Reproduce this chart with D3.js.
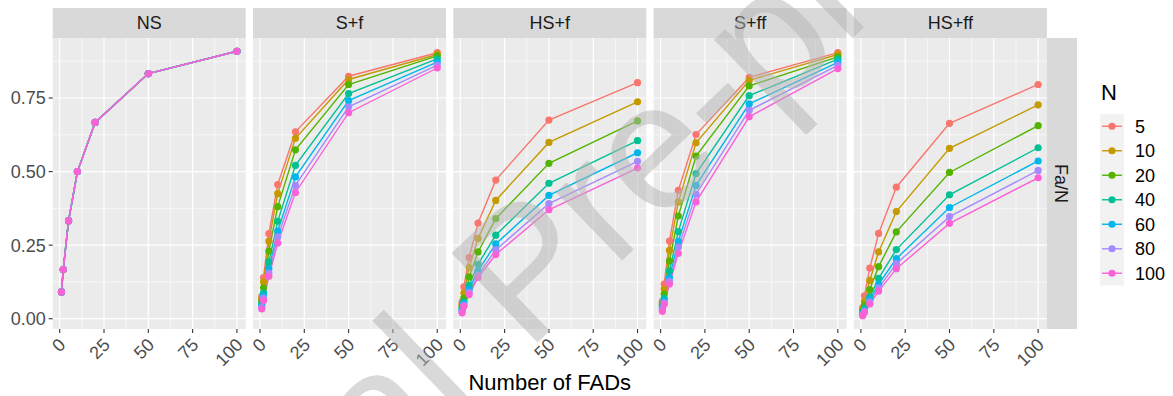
<!DOCTYPE html>
<html>
<head>
<meta charset="utf-8">
<script src="https://cdn.jsdelivr.net/npm/d3@7"></script>
<style>
  body { margin: 0; background: #fff; }
  svg text { font-family: "Liberation Sans", Arial, sans-serif; }
</style>
</head>
<body>
<svg id="chart"></svg>
<script>
/* data: one row per N level, columns follow fadValues */
var fadValues = [1, 2, 5, 10, 20, 50, 100];
var nLevels = [5, 10, 20, 40, 60, 80, 100];
var scenarios = ["NS", "S+f", "HS+f", "S+ff", "HS+ff"];
var xTicks = [0, 25, 50, 75, 100];
var yTicks = [0, 0.25, 0.5, 0.75];
var yTickLabels = ["0.00", "0.25", "0.50", "0.75"];

var valsNS = [
  [0.091, 0.167, 0.333, 0.500, 0.667, 0.833, 0.909],
  [0.091, 0.167, 0.333, 0.500, 0.667, 0.833, 0.909],
  [0.091, 0.167, 0.333, 0.500, 0.667, 0.833, 0.909],
  [0.091, 0.167, 0.333, 0.500, 0.667, 0.833, 0.909],
  [0.091, 0.167, 0.333, 0.500, 0.667, 0.833, 0.909],
  [0.091, 0.167, 0.333, 0.500, 0.667, 0.833, 0.909],
  [0.091, 0.167, 0.333, 0.500, 0.667, 0.833, 0.909]
];
var valsSf = [
  [0.076, 0.140, 0.289, 0.456, 0.635, 0.824, 0.904],
  [0.068, 0.125, 0.264, 0.425, 0.613, 0.813, 0.898],
  [0.060, 0.105, 0.230, 0.381, 0.574, 0.796, 0.893],
  [0.051, 0.088, 0.193, 0.331, 0.521, 0.765, 0.883],
  [0.043, 0.077, 0.170, 0.298, 0.482, 0.741, 0.872],
  [0.038, 0.070, 0.155, 0.278, 0.453, 0.720, 0.862],
  [0.033, 0.062, 0.144, 0.257, 0.429, 0.700, 0.852]
];
var valsHSf = [
  [0.057, 0.108, 0.208, 0.325, 0.471, 0.675, 0.802],
  [0.049, 0.087, 0.174, 0.273, 0.402, 0.599, 0.737],
  [0.041, 0.070, 0.142, 0.227, 0.340, 0.528, 0.672],
  [0.034, 0.057, 0.113, 0.185, 0.284, 0.460, 0.605],
  [0.028, 0.051, 0.101, 0.163, 0.254, 0.419, 0.564],
  [0.025, 0.045, 0.090, 0.148, 0.234, 0.391, 0.535],
  [0.020, 0.042, 0.082, 0.140, 0.218, 0.370, 0.512]
];
var valsSff = [
  [0.059, 0.118, 0.264, 0.436, 0.626, 0.820, 0.904],
  [0.053, 0.101, 0.232, 0.397, 0.598, 0.810, 0.898],
  [0.048, 0.084, 0.196, 0.349, 0.553, 0.791, 0.890],
  [0.042, 0.069, 0.162, 0.296, 0.493, 0.758, 0.882],
  [0.036, 0.061, 0.140, 0.263, 0.453, 0.730, 0.871],
  [0.032, 0.054, 0.127, 0.243, 0.423, 0.708, 0.861],
  [0.025, 0.049, 0.118, 0.222, 0.397, 0.686, 0.850]
];
var valsHSff = [
  [0.038, 0.078, 0.172, 0.290, 0.447, 0.664, 0.796],
  [0.032, 0.059, 0.130, 0.227, 0.364, 0.579, 0.727],
  [0.026, 0.045, 0.099, 0.177, 0.295, 0.497, 0.656],
  [0.020, 0.035, 0.074, 0.137, 0.235, 0.421, 0.581],
  [0.017, 0.028, 0.065, 0.118, 0.204, 0.378, 0.536],
  [0.014, 0.025, 0.057, 0.105, 0.187, 0.347, 0.504],
  [0.010, 0.021, 0.050, 0.094, 0.170, 0.324, 0.479]
];
var panelValues = [valsNS, valsSf, valsHSf, valsSff, valsHSff];

var colors = ["#F8766D", "#C49A00", "#53B400", "#00C094", "#00B6EB", "#A58AFF", "#FB61D7"];

/* layout */
var svgWidth = 1173, svgHeight = 396;
var panelLeft = 52.7, panelW = 193, panelGap = 7.3;
var panelTop = 38, panelBottom = 329, stripH = 30, stripW = 30;

var svg = d3.select("#chart")
    .attr("width", svgWidth)
    .attr("height", svgHeight);

svg.append("rect").attr("width", svgWidth).attr("height", svgHeight).attr("fill", "#fff");

// ggplot style 5% expansion
var allVals = d3.merge(panelValues.map(function(p) { return d3.merge(p); }));
var yMin = d3.min(allVals), yMax = d3.max(allVals);
var yPad = (yMax - yMin) * 0.05;
var xPad = (d3.max(fadValues) - d3.min(fadValues)) * 0.05;

var y = d3.scaleLinear()
    .domain([yMin - yPad, yMax + yPad])
    .range([panelBottom, panelTop]);

var line = d3.line();

scenarios.forEach(function(name, p) {
    var x0 = panelLeft + p * (panelW + panelGap);
    var x = d3.scaleLinear()
        .domain([d3.min(fadValues) - xPad, d3.max(fadValues) + xPad])
        .range([x0, x0 + panelW]);

    var g = svg.append("g");

    g.append("rect")
        .attr("x", x0).attr("y", panelTop)
        .attr("width", panelW).attr("height", panelBottom - panelTop)
        .attr("fill", "#ebebeb");

    // minor grid
    [12.5, 37.5, 62.5, 87.5].forEach(function(v) {
        g.append("line").attr("x1", x(v)).attr("x2", x(v))
            .attr("y1", panelTop).attr("y2", panelBottom)
            .attr("stroke", "#fff").attr("stroke-width", 0.6);
    });
    [0.125, 0.375, 0.625, 0.875].forEach(function(v) {
        g.append("line").attr("x1", x0).attr("x2", x0 + panelW)
            .attr("y1", y(v)).attr("y2", y(v))
            .attr("stroke", "#fff").attr("stroke-width", 0.6);
    });
    // major grid
    xTicks.forEach(function(v) {
        g.append("line").attr("x1", x(v)).attr("x2", x(v))
            .attr("y1", panelTop).attr("y2", panelBottom)
            .attr("stroke", "#fff").attr("stroke-width", 1.2);
    });
    yTicks.forEach(function(v) {
        g.append("line").attr("x1", x0).attr("x2", x0 + panelW)
            .attr("y1", y(v)).attr("y2", y(v))
            .attr("stroke", "#fff").attr("stroke-width", 1.2);
    });

    // strip on top
    g.append("rect")
        .attr("x", x0).attr("y", panelTop - stripH)
        .attr("width", panelW).attr("height", stripH)
        .attr("fill", "#d9d9d9");
    g.append("text")
        .attr("x", x0 + panelW / 2).attr("y", panelTop - stripH / 2)
        .attr("dy", "0.36em")
        .attr("text-anchor", "middle")
        .attr("font-size", 18)
        .attr("fill", "#1a1a1a")
        .text(name);

    // x axis ticks + labels
    var xa = g.append("g").attr("transform", "translate(0," + panelBottom + ")");
    xTicks.forEach(function(v) {
        xa.append("line").attr("x1", x(v)).attr("x2", x(v))
            .attr("y1", 0).attr("y2", 4)
            .attr("stroke", "#333").attr("stroke-width", 1.1);
        xa.append("text")
            .attr("transform", "translate(" + (x(v) + 7) + ",17) rotate(-45)")
            .attr("text-anchor", "end")
            .attr("font-size", 18)
            .attr("fill", "#4d4d4d")
            .text(v);
    });

    // series: lines first, then points
    var rows = panelValues[p];
    rows.forEach(function(row, i) {
        g.append("path")
            .attr("d", line(row.map(function(v, j) { return [x(fadValues[j]), y(v)]; })))
            .attr("fill", "none")
            .attr("stroke", colors[i])
            .attr("stroke-width", 1.4);
    });
    rows.forEach(function(row, i) {
        g.selectAll(null)
            .data(row)
            .enter()
            .append("circle")
            .attr("cx", function(d, j) { return x(fadValues[j]); })
            .attr("cy", function(d) { return y(d); })
            .attr("r", 3.6)
            .attr("fill", colors[i]);
    });

    if (p === scenarios.length - 1) {
        g.append("rect")
            .attr("x", x0 + panelW).attr("y", panelTop)
            .attr("width", stripW).attr("height", panelBottom - panelTop)
            .attr("fill", "#d9d9d9");
        g.append("text")
            .attr("transform", "translate(" + (x0 + panelW + stripW / 2) + "," + ((panelTop + panelBottom) / 2) + ") rotate(90)")
            .attr("dy", "0.36em")
            .attr("text-anchor", "middle")
            .attr("font-size", 18)
            .attr("fill", "#1a1a1a")
            .text("Fa/N");
    }
});

// y axis on first panel
var ya = svg.append("g");
yTicks.forEach(function(v, i) {
    ya.append("line").attr("x1", panelLeft - 4).attr("x2", panelLeft)
        .attr("y1", y(v)).attr("y2", y(v))
        .attr("stroke", "#333").attr("stroke-width", 1.1);
    ya.append("text")
        .attr("x", panelLeft - 7).attr("y", y(v))
        .attr("dy", "0.36em")
        .attr("text-anchor", "end")
        .attr("font-size", 18)
        .attr("fill", "#4d4d4d")
        .text(yTickLabels[i]);
});

// axis title
svg.append("text")
    .attr("x", panelLeft + (5 * panelW + 4 * panelGap) / 2)
    .attr("y", 390)
    .attr("text-anchor", "middle")
    .attr("font-size", 22)
    .attr("fill", "#000")
    .text("Number of FADs");

// legend
var legX = 1100, legY = 114, keyW = 24, keyH = 24.5;
var legend = svg.append("g");
legend.append("text")
    .attr("x", legX + 1).attr("y", 100)
    .attr("font-size", 22)
    .attr("fill", "#000")
    .text("N");
legend.append("rect")
    .attr("x", legX).attr("y", legY)
    .attr("width", keyW).attr("height", keyH * nLevels.length)
    .attr("fill", "#f2f2f2");
nLevels.forEach(function(n, i) {
    var cy = legY + keyH * i + keyH / 2;
    legend.append("line")
        .attr("x1", legX + 2).attr("x2", legX + keyW - 2)
        .attr("y1", cy).attr("y2", cy)
        .attr("stroke", colors[i]).attr("stroke-width", 1.4);
    legend.append("circle")
        .attr("cx", legX + keyW / 2).attr("cy", cy).attr("r", 3.6)
        .attr("fill", colors[i]);
    legend.append("text")
        .attr("x", legX + 35).attr("y", cy)
        .attr("dy", "0.36em")
        .attr("font-size", 18)
        .attr("fill", "#000")
        .text(n);
});

// watermark
var wm = svg.append("g")
    .attr("transform", "translate(537,343) rotate(-44)")
    .attr("fill", "#b5b5b5")
    .attr("opacity", 0.5)
    .attr("font-size", 180);
wm.append("text").attr("x", -75).attr("text-anchor", "end").text("Journal");
wm.append("text").attr("x", -14).text("Pre-proof");
</script>
</body>
</html>
